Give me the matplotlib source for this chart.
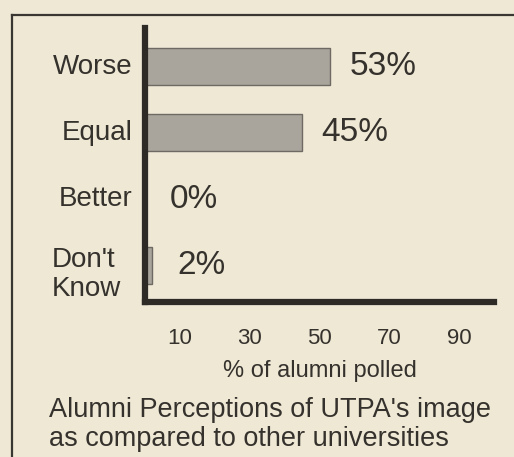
import matplotlib.pyplot as plt
from matplotlib.lines import Line2D
from matplotlib.transforms import blended_transform_factory

# datos
categorias = ["Worse", "Equal", "Better", "Don't\nKnow"]
porcentajes = [53, 45, 0, 2]
etiquetas = ["53%", "45%", "0%", "2%"]
ticks_x = [10, 30, 50, 70, 90]
marcas_x = [10, 30, 50]

FONDO = '#eee8d5'
TINTA = '#35312c'
BARRA = '#aaa59c'

plt.rcParams['font.family'] = ['Liberation Sans', 'DejaVu Sans']

fig = plt.figure(figsize=(5.14, 4.57), dpi=100, facecolor=FONDO)
ax = fig.add_axes([145 / 514, 1 - 302 / 457, 349 / 514, 274 / 457])
ax.set_facecolor(FONDO)

pos = list(range(len(categorias)))
ax.barh(pos, porcentajes, height=0.56, color=BARRA, edgecolor='#6e6962', linewidth=1.0)

ax.set_xlim(0, 100)
ax.set_ylim(3.56, -0.59)

# etiquetas de categoría a la izquierda del eje
trans = blended_transform_factory(ax.transAxes, ax.transData)
for i, cat in enumerate(categorias):
    if '\n' in cat:
        ax.text(-0.07, i + 0.14, cat, transform=trans, ha='right', va='center',
                multialignment='left', fontsize=20, color=TINTA, linespacing=1.15)
    else:
        ax.text(-0.035, i, cat, transform=trans, ha='right', va='center',
                fontsize=20, color=TINTA)

# valores a la derecha de cada barra
for i, (v, txt) in enumerate(zip(porcentajes, etiquetas)):
    ax.annotate(txt, xy=(v, i), xytext=(18 if v < 5 else 14, 0), textcoords='offset points',
                ha='left', va='center', fontsize=24, color=TINTA)

# ejes
for lado in ['top', 'right']:
    ax.spines[lado].set_visible(False)
for lado in ['left', 'bottom']:
    ax.spines[lado].set_linewidth(4.5)
    ax.spines[lado].set_color('#2e2a26')

ax.set_yticks([])
ax.set_xticks(ticks_x)
ax.set_xticklabels([str(t) for t in ticks_x], fontsize=16, color=TINTA)
ax.set_xticks(marcas_x, minor=True)
ax.tick_params(axis='x', which='major', length=0, pad=19)
ax.tick_params(axis='x', which='minor', length=11, width=0.8, color='#6e6962')
ax.set_xlabel('% of alumni polled', fontsize=17, color=TINTA, labelpad=8)

# recuadro del recorte de periódico
fig.add_artist(Line2D([12 / 514, 1.0], [1 - 15 / 457, 1 - 15 / 457], color='#3a3632', lw=1.6))
fig.add_artist(Line2D([12 / 514, 12 / 514], [0, 1 - 15 / 457], color='#3a3632', lw=1.6))

fig.text(49 / 514, 1 - 397 / 457,
         "Alumni Perceptions of UTPA's image\nas compared to other universities",
         ha='left', va='top', fontsize=19.5, color=TINTA, linespacing=1.15)

plt.savefig('out.png', dpi=100, facecolor=FONDO)
